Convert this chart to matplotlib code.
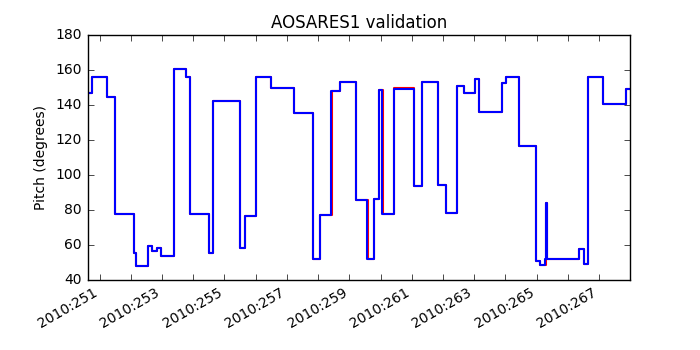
import matplotlib
matplotlib.use("Agg")
import matplotlib.pyplot as plt
from matplotlib.ticker import FuncFormatter, MultipleLocator

plt.style.use("classic")
plt.rcParams["font.size"] = 10

# Step start times (day of year 2010) and pitch levels (degrees)
blue_t = [250.615, 250.766, 251.247, 251.490, 252.090, 252.176, 252.538, 252.689,
          252.837, 252.955, 253.381, 253.756, 253.894, 254.503, 254.622, 255.497,
          255.670, 256.022, 256.490, 257.218, 257.837, 258.051, 258.426, 258.692,
          259.205, 259.580, 259.792, 259.942, 260.061, 260.433, 261.074, 261.330,
          261.824, 262.080, 262.452, 262.676, 263.029, 263.157, 263.894, 264.013,
          264.420, 264.965, 265.103, 265.280, 265.300, 265.315, 266.343, 266.522,
          266.631, 267.112, 267.849, 267.987]
blue_v = [147.0, 155.8, 144.6, 77.9, 55.2, 48.0, 59.6, 56.8,
          58.3, 53.7, 160.6, 155.8, 77.9, 55.4, 142.3, 58.5,
          76.6, 155.8, 150.0, 135.6, 51.8, 77.3, 148.2, 153.0,
          85.9, 51.8, 86.0, 148.6, 77.5, 149.0, 93.9, 153.2,
          94.0, 78.2, 150.9, 146.8, 155.0, 136.0, 152.4, 155.8,
          116.4, 50.8, 48.8, 51.8, 84.2, 51.8, 57.6, 49.4,
          156.0, 140.3, 149.3, 149.3]

red_t = [250.615, 250.769, 251.250, 251.493, 252.093, 252.179, 252.541, 252.692,
         252.840, 252.958, 253.384, 253.759, 253.897, 254.506, 254.625, 255.500,
         255.673, 256.025, 256.493, 257.221, 257.840, 258.054, 258.429, 258.695,
         259.208, 259.583, 259.795, 259.945, 260.064, 260.436, 261.077, 261.333,
         261.827, 262.083, 262.455, 262.679, 263.032, 263.160, 263.897, 264.016,
         264.423, 264.968, 265.106, 265.283, 265.303, 265.318, 266.346, 266.525,
         266.634, 267.115, 267.852, 267.987]
red_v = [147.0, 156.0, 144.6, 77.9, 55.2, 48.0, 59.6, 56.8,
         58.3, 53.7, 160.7, 155.8, 77.9, 55.4, 142.3, 58.5,
         76.6, 156.1, 150.0, 135.6, 51.8, 77.3, 148.2, 153.0,
         85.9, 51.8, 86.0, 148.6, 77.5, 149.6, 93.9, 153.2,
         94.0, 78.2, 151.1, 146.8, 155.0, 136.0, 152.4, 155.9,
         116.4, 50.8, 48.8, 51.8, 84.2, 51.8, 57.6, 49.4,
         156.1, 140.3, 149.3, 149.3]

year = 2010

fig = plt.figure(figsize=(7, 3.5), dpi=100)
ax = fig.add_subplot(111)
ax.plot(red_t, red_v, color="red", lw=1.5, drawstyle="steps-post")
ax.plot(blue_t, blue_v, color="blue", lw=1.5, drawstyle="steps-post")

ax.set_xlim(blue_t[0], blue_t[-1])
ax.set_ylim(40, 180)
ax.xaxis.set_major_locator(MultipleLocator(1))
ax.xaxis.set_major_formatter(FuncFormatter(
    lambda x, pos: f"{year}:{int(round(x)):03d}" if int(round(x)) % 2 == 1 else ""))
ax.set_title("AOSARES1 validation", fontsize=12)
ax.set_ylabel("Pitch (degrees)")
fig.subplots_adjust(left=0.125, right=0.9, top=0.9, bottom=0.2)
for lbl in ax.get_xticklabels():
    lbl.set_rotation(30)
    lbl.set_ha("right")

fig.savefig("out.png", dpi=100)
